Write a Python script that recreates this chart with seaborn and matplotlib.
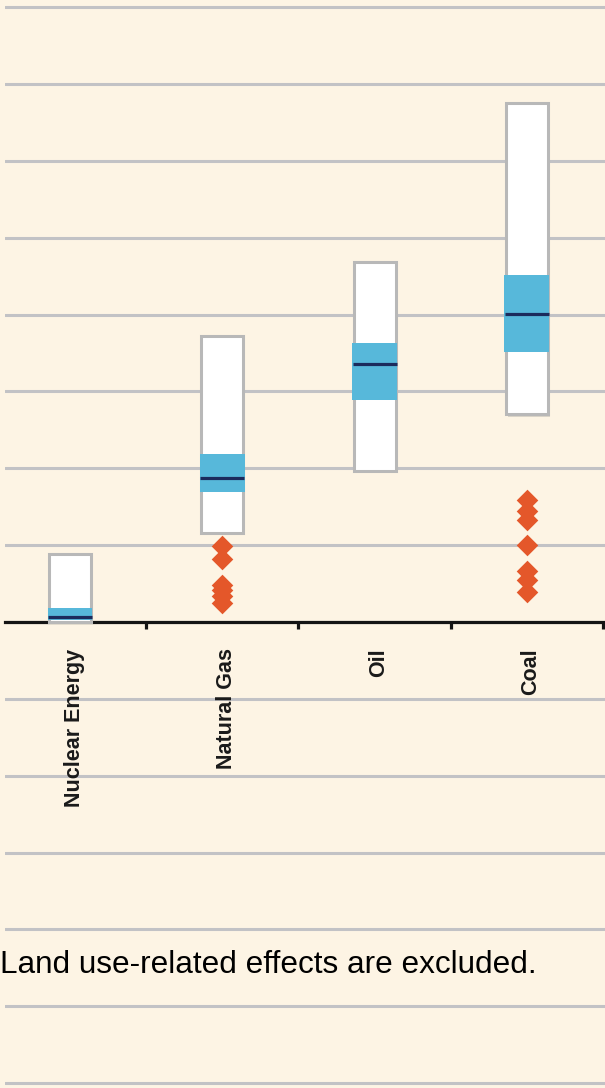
import numpy as np
import pandas as pd
import matplotlib
matplotlib.use("Agg")
import matplotlib.pyplot as plt
import matplotlib.patheffects as pe
import matplotlib.transforms as mtransforms
import seaborn as sns

# ---------------- data (g CO2eq/kWh) ----------------
categories = ["Nuclear Energy", "Natural Gas", "Oil", "Coal"]
range_min = [1, 290, 490, 675]
pct25 = [8, 422, 722, 877]
median = [16, 469, 840, 1001]
pct75 = [45, 548, 907, 1130]
range_max = [220, 930, 1170, 1689]

outlier_source = ["Natural Gas"] * 6 + ["Coal"] * 7
outlier_value = [247, 205, 120, 104, 85, 62,
                 397, 361, 332, 250, 166, 137, 98]

grid_values = list(range(-1500, 2001, 250))
note = "Land use-related effects are excluded."

# ---------------- style ----------------
BG = "#fdf4e4"
GRID = "#c2c2c5"
EDGE = "#b8b8b8"
BLUE = "#57b8da"
NAVY = "#1b2b5c"
ORANGE = "#e4572a"

sns.set_theme(style="white")
plt.rcParams["font.family"] = ["Liberation Sans", "DejaVu Sans"]

W, H = 605, 1088
fig = plt.figure(figsize=(W / 100, H / 100), dpi=100, facecolor=BG)
ax = fig.add_axes([5 / W, 0, 600 / W, 1])
ax.set_facecolor(BG)

df = pd.DataFrame({
    "source": categories,
    "lo": range_min,
    "q1": pct25,
    "med": median,
    "q3": pct75,
    "hi": range_max,
})
df["span"] = df["hi"] - df["lo"]
df["iqr"] = df["q3"] - df["q1"]

# full range boxes (white)
sns.barplot(data=df, x="source", y="span", order=categories,
            bottom=df["lo"].to_numpy(), color="white", saturation=1,
            edgecolor=EDGE, linewidth=2.2, width=0.276, errorbar=None,
            ax=ax, zorder=3)
shadow = [pe.SimplePatchShadow(offset=(1.5, -1.5), shadow_rgbFace="#8a8a8a", alpha=0.3),
          pe.Normal()]
for p in list(ax.patches):
    p.set_path_effects(shadow)

# interquartile band (blue)
sns.barplot(data=df, x="source", y="iqr", order=categories,
            bottom=df["q1"].to_numpy(), color=BLUE, saturation=1,
            linewidth=0, width=0.295, errorbar=None, ax=ax, zorder=4)

# median lines
sns.pointplot(data=df, x="source", y="med", order=categories, color=NAVY,
              marker="_", markersize=32, markeredgewidth=2.3, linestyle="none",
              errorbar=None, ax=ax, zorder=5)

# outliers
sns.stripplot(x=outlier_source, y=outlier_value, order=categories, jitter=False,
              marker="D", size=11, color=ORANGE, linewidth=0, ax=ax, zorder=6)

# ---------------- axes ----------------
ax.set_yticks(grid_values)
ax.set_yticklabels([])
ax.tick_params(axis="y", which="both", length=0, left=False)
ax.grid(False)
ax.yaxis.grid(True, color=GRID, linewidth=2.2)
ax.set_axisbelow(True)
for s in ["left", "right", "top"]:
    ax.spines[s].set_visible(False)
ax.spines["bottom"].set_position(("data", 0))
ax.spines["bottom"].set_color("#141414")
ax.spines["bottom"].set_linewidth(2.3)
ax.spines["bottom"].set_zorder(2.5)

ax.set_xticks(range(len(categories)))
ax.set_xticklabels(categories, rotation=90, fontsize=15.5, fontweight="bold",
                   color="#1a1a1a")
ax.set_xticks([0.5, 1.5, 2.5, 3.5], minor=True)
ax.tick_params(axis="x", which="major", length=0, pad=19, bottom=True)
ax.tick_params(axis="x", which="minor", length=5, width=2.3, direction="out",
               color="#141414", bottom=True)
ax.xaxis.set_zorder(2.6)
shift = mtransforms.ScaledTranslation(4 / 100, 0, fig.dpi_scale_trans)
for lab in ax.get_xticklabels():
    lab.set_transform(lab.get_transform() + shift)
ax.set_xlabel("")
ax.set_ylabel("")

ax.set_xlim(-0.427, 3.513)
ax.set_ylim(-1515.7, 2023.2)

fig.text(0.5 / W, 1 - 973 / H, note, fontsize=22.7, ha="left", va="baseline",
         color="black")

fig.savefig("out.png", dpi=100, facecolor=BG)
